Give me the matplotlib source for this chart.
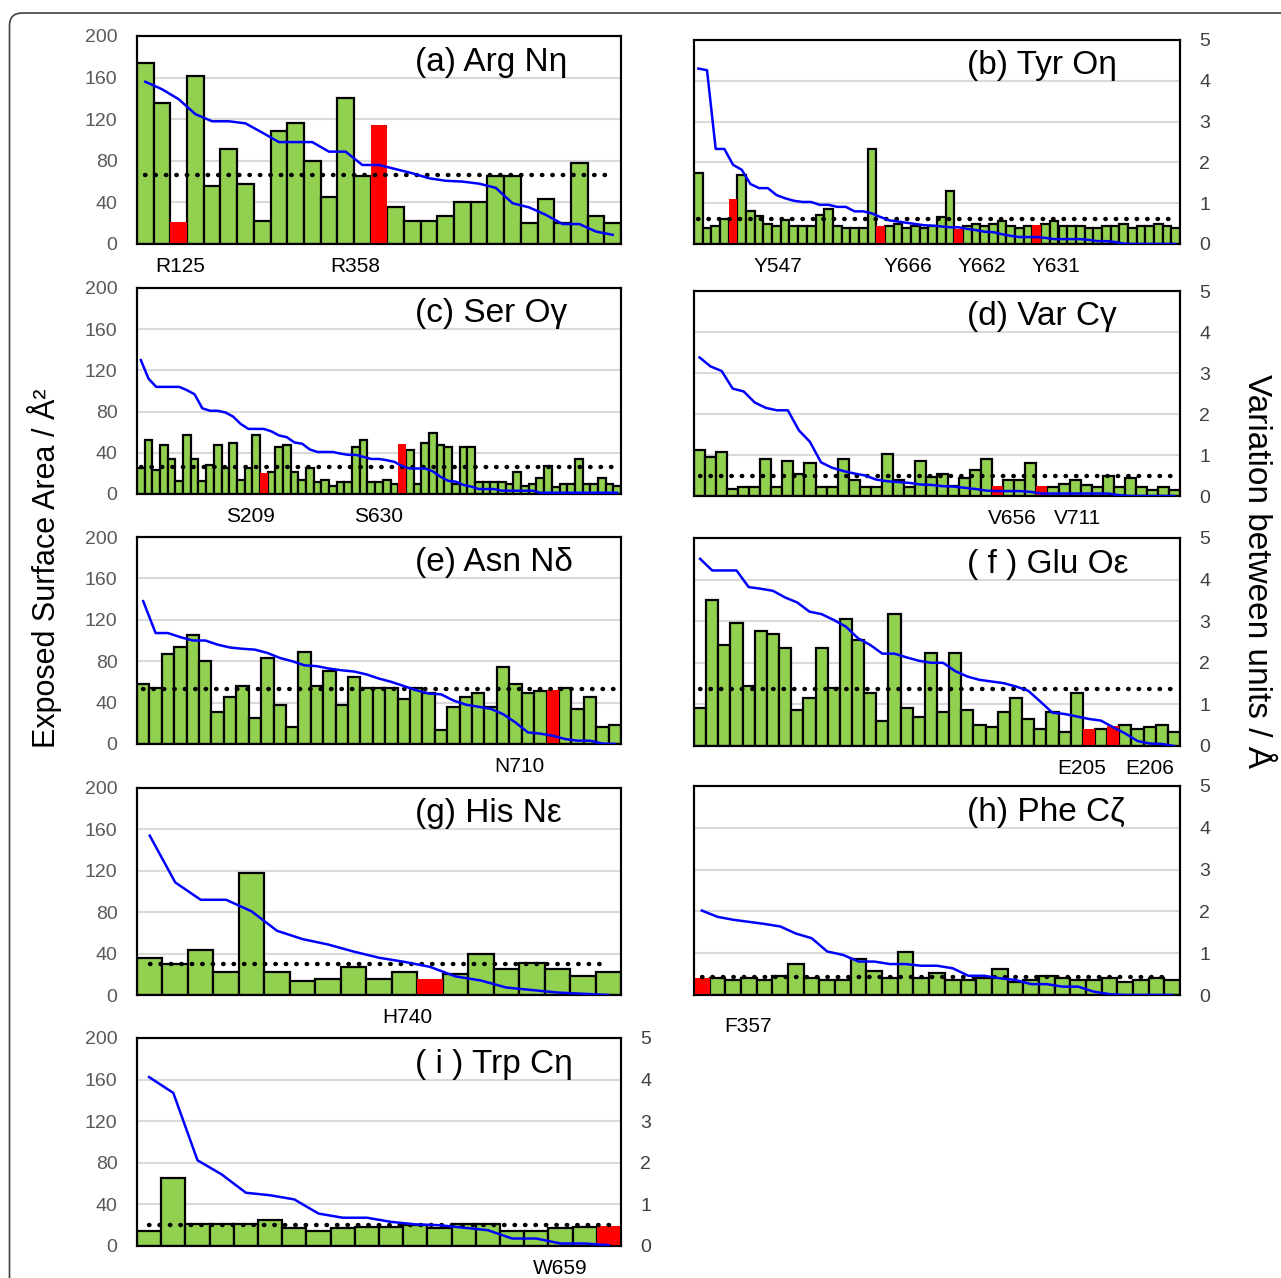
import numpy as np
import matplotlib.pyplot as plt
from matplotlib.patches import FancyBboxPatch

plt.rcParams['font.family'] = ['Liberation Sans', 'DejaVu Sans']

# (a) Arg
bars_a = [174, 136, 21, 162, 56, 91, 58, 22, 109, 116, 80, 45, 140, 65, 114, 36, 22, 22, 27, 40,
          40, 65, 65, 20, 43, 20, 78, 27, 20]
red_a = [2, 14]
line_a = [3.9, 3.72, 3.48, 3.12, 2.95, 2.95, 2.9, 2.68, 2.45, 2.45, 2.45, 2.22, 2.22, 1.9, 1.9,
          1.8, 1.7, 1.58, 1.52, 1.5, 1.45, 1.35, 0.98, 0.88, 0.7, 0.48, 0.48, 0.3, 0.22]
dot_a = 66
lab_a = ['R125', 'R358']
labx_a = [2.1, 12.6]

# (b) Tyr
bars_b = [70, 16, 18, 25, 44, 68, 32, 27, 20, 18, 24, 18, 18, 18, 28, 34, 18, 16, 16, 16,
          93, 18, 18, 20, 16, 18, 16, 18, 26, 52, 15, 18, 20, 18, 20, 23, 18, 16, 18, 19,
          20, 23, 18, 18, 18, 16, 16, 18, 18, 20, 16, 18, 18, 20, 18, 16]
red_b = [4, 21, 30, 39]
line_b = [4.3, 4.26, 2.33, 2.33, 1.94, 1.82, 1.47, 1.37, 1.37, 1.2,
          1.12, 1.06, 1.03, 1.03, 0.96, 0.96, 0.91, 0.91, 0.8, 0.8,
          0.75, 0.66, 0.58, 0.55, 0.52, 0.49, 0.46, 0.45, 0.43, 0.41,
          0.41, 0.37, 0.34, 0.3, 0.29, 0.24, 0.2, 0.17, 0.17, 0.17,
          0.15, 0.12, 0.12, 0.12, 0.12, 0.1, 0.07, 0.07, 0.05, 0.01,
          0, 0, 0, 0, 0, 0]
dot_b = 24.4
lab_b = ['Y547', 'Y666', 'Y662', 'Y631']
labx_b = [9.2, 24.2, 32.7, 41.2]

# (c) Ser
bars_c = [25, 52, 23, 48, 34, 13, 57, 34, 13, 28, 48, 25, 50, 14, 25, 57, 20, 21, 46, 48,
          21, 14, 25, 12, 14, 8, 12, 12, 46, 52, 12, 12, 14, 10, 49, 43, 10, 50, 59, 48,
          46, 10, 46, 46, 12, 12, 12, 12, 10, 21, 8, 10, 16, 27, 7, 10, 10, 34, 10, 10,
          16, 10, 8]
red_c = [16, 34]
line_c = [3.25, 2.8, 2.6, 2.6, 2.6, 2.6, 2.52, 2.42, 2.08, 2.02,
          2.02, 1.98, 1.88, 1.7, 1.58, 1.58, 1.58, 1.52, 1.42, 1.38,
          1.25, 1.22, 1.08, 1.02, 1.02, 1.02, 0.98, 0.95, 0.95, 0.9,
          0.85, 0.85, 0.82, 0.78, 0.68, 0.62, 0.62, 0.62, 0.55, 0.42,
          0.32, 0.3, 0.22, 0.18, 0.12, 0.12, 0.12, 0.08, 0.08, 0.08,
          0.08, 0.08, 0.03, 0.03, 0.03, 0.03, 0.03, 0.03, 0.03, 0.03,
          0.03, 0.03, 0.03]
dot_c = 26
lab_c = ['S209', 'S630']
labx_c = [14.3, 30.9]

# (d) Val
bars_d = [45, 38, 43, 7, 9, 9, 36, 9, 34, 21, 32, 9, 9, 36, 16, 9, 9, 41, 16, 9,
          34, 19, 21, 10, 18, 25, 36, 10, 16, 16, 32, 10, 9, 12, 16, 11, 9, 20, 9, 18,
          9, 6, 9, 6]
red_d = [27, 31]
line_d = [3.38, 3.16, 3.05, 2.62, 2.55, 2.28, 2.15, 2.09, 2.09, 1.6,
          1.32, 0.82, 0.69, 0.61, 0.55, 0.5, 0.4, 0.36, 0.34, 0.32,
          0.28, 0.27, 0.24, 0.23, 0.2, 0.17, 0.13, 0.12, 0.12, 0.12,
          0.1, 0.06, 0.06, 0.06, 0.06, 0.06, 0.06, 0.06, 0.02, 0,
          0, 0, 0, 0]
dot_d = 19.4
lab_d = ['V656', 'V711']
labx_d = [28.3, 34.25]

# (e) Asn
bars_e = [58, 54, 87, 94, 105, 80, 31, 45, 56, 25, 83, 38, 16, 89, 56, 71, 38, 65, 54, 54,
          54, 43, 54, 49, 14, 36, 45, 49, 36, 74, 58, 49, 51, 52, 54, 34, 45, 16, 18]
red_e = [33]
line_e = [3.45, 2.68, 2.68, 2.58, 2.5, 2.5, 2.4, 2.33, 2.3, 2.28,
          2.2, 2.08, 2.0, 1.9, 1.88, 1.82, 1.78, 1.75, 1.68, 1.58,
          1.5, 1.4, 1.3, 1.22, 1.2, 1.05, 0.95, 0.9, 0.85, 0.72,
          0.52, 0.28, 0.25, 0.2, 0.12, 0.08, 0.08, 0.01, 0.0]
dot_e = 52.8
lab_e = ['N710']
labx_e = [30.3]

# (f) Glu
bars_f = [37, 140, 97, 118, 58, 111, 108, 94, 35, 46, 94, 56, 122, 102, 51, 24, 127, 37, 28, 89,
          33, 89, 35, 20, 18, 33, 46, 26, 16, 33, 13, 51, 16, 16, 19, 20, 16, 18, 20, 13]
red_f = [32, 34]
line_f = [4.5, 4.22, 4.22, 4.22, 3.82, 3.78, 3.73, 3.57, 3.45, 3.23,
          3.17, 3.03, 2.87, 2.59, 2.43, 2.22, 2.22, 2.13, 2.05, 2.0,
          2.0, 1.8, 1.67, 1.59, 1.55, 1.51, 1.43, 1.33, 1.07, 0.8,
          0.77, 0.71, 0.65, 0.61, 0.45, 0.3, 0.12, 0.06, 0.05, 0.0]
dot_f = 54.6
lab_f = ['E205', 'E206']
labx_f = [31.4, 37.0]

# (g) His
bars_g = [36, 30, 43, 22, 118, 22, 14, 15, 27, 15, 22, 15, 20, 40, 25, 31, 25, 18, 22]
red_g = [11]
line_g = [3.85, 2.72, 2.3, 2.3, 2.02, 1.55, 1.35, 1.22, 1.05, 0.9,
          0.8, 0.68, 0.45, 0.35, 0.18, 0.12, 0.06, 0.03, 0.0]
dot_g = 30.4
lab_g = ['H740']
labx_g = [10.1]

# (h) Phe
bars_h = [16, 16, 14, 16, 14, 18, 30, 16, 14, 14, 34, 23, 16, 41, 16, 21, 14, 14, 16, 25,
          12, 14, 18, 16, 14, 14, 16, 12, 14, 16, 14]
red_h = [0]
line_h = [2.02, 1.87, 1.8, 1.75, 1.7, 1.64, 1.47, 1.36, 1.04, 0.96,
          0.8, 0.8, 0.74, 0.74, 0.7, 0.7, 0.64, 0.46, 0.46, 0.4,
          0.36, 0.26, 0.26, 0.2, 0.2, 0.08, 0.02, 0, 0, 0, 0]
dot_h = 17.6
lab_h = ['F357']
labx_h = [2.94]

# (i) Trp
bars_i = [14, 65, 21, 21, 21, 25, 17, 14, 17, 18, 18, 20, 17, 21, 21, 14, 14, 17, 18, 19]
red_i = [19]
line_i = [4.06, 3.68, 2.06, 1.72, 1.28, 1.22, 1.12, 0.78, 0.68, 0.68,
          0.58, 0.52, 0.5, 0.44, 0.38, 0.18, 0.18, 0.06, 0.06, 0.02]
dot_i = 19.8
lab_i = ['W659']
labx_i = [17.0]

W, H = 1281, 1278
fig = plt.figure(figsize=(W / 100, H / 100), dpi=100)

verde = '#92d050'
rojo = '#ff0000'
gris = '#595959'


def panel(box, title, tx, bars, red, line, dot, labs, labx, izq, der, off=16):
    l, r, t, b = box
    ax = fig.add_axes([l / W, 1 - b / H, (r - l) / W, (b - t) / H])
    n = len(bars)
    x = np.arange(n)
    verdes = [i for i in range(n) if i not in red]
    ax.bar([x[i] for i in verdes], [bars[i] for i in verdes], width=1.0,
           color=verde, edgecolor='black', linewidth=1.6, zorder=2)
    ax.bar([x[i] for i in red], [bars[i] for i in red], width=1.0,
           color=rojo, edgecolor='none', zorder=3)
    ax.plot([0, n - 1], [dot, dot], color='black', lw=3.2,
            linestyle=(0, (0.1, 2.25)), dash_capstyle='round', zorder=4)
    ax.set_xlim(-0.5, n - 0.5)
    ax.set_ylim(0, 200)
    ax.set_yticks(range(0, 201, 40))
    ax.set_xticks([])
    ax.grid(axis='y', color='#d9d9d9', lw=1.5)
    ax.set_axisbelow(True)
    ax.tick_params(length=0, pad=14, labelsize=14, labelcolor=gris, labelleft=izq)

    ax2 = ax.twinx()
    ax2.plot(x, line, color='#0000ff', lw=1.8, zorder=5)
    ax2.set_ylim(0, 5)
    ax2.set_yticks(range(0, 6))
    ax2.tick_params(length=0, pad=14, labelsize=14, labelcolor='#404040', labelright=der)
    for a in (ax, ax2):
        for s in a.spines.values():
            s.set_linewidth(1.5)
            s.set_color('black')

    ax.text(tx, 0.875, title, transform=ax.transAxes, fontsize=24,
            ha='left', va='center')
    for txt, px in zip(labs, labx):
        ax.annotate(txt, xy=(px, 0), xycoords=('data', 'axes fraction'),
                    xytext=(0, -off), textcoords='offset points',
                    ha='center', va='center', fontsize=15, annotation_clip=False)


panel((137, 621, 36, 244), '(a) Arg Nη', 0.574, bars_a, red_a, line_a, dot_a, lab_a, labx_a, True, False)
panel((694, 1180, 40, 244), '(b) Tyr Oη', 0.562, bars_b, red_b, line_b, dot_b, lab_b, labx_b, False, True)
panel((137, 621, 288, 494), '(c) Ser Oγ', 0.574, bars_c, red_c, line_c, dot_c, lab_c, labx_c, True, False)
panel((694, 1180, 291, 496), '(d) Var Cγ', 0.562, bars_d, red_d, line_d, dot_d, lab_d, labx_d, False, True)
panel((137, 621, 537, 744), '(e) Asn Nδ', 0.574, bars_e, red_e, line_e, dot_e, lab_e, labx_e, True, False)
panel((694, 1180, 538, 746), '( f ) Glu Oε', 0.562, bars_f, red_f, line_f, dot_f, lab_f, labx_f, False, True)
panel((137, 621, 788, 995), '(g) His Nε', 0.574, bars_g, red_g, line_g, dot_g, lab_g, labx_g, True, False)
panel((694, 1180, 786, 995), '(h) Phe Cζ', 0.562, bars_h, red_h, line_h, dot_h, lab_h, labx_h, False, True, off=23)
panel((137, 621, 1038, 1246), '( i ) Trp Cη', 0.574, bars_i, red_i, line_i, dot_i, lab_i, labx_i, True, True)

fig.text(45 / W, 1 - 568 / H, 'Exposed Surface Area / Å²', rotation=90,
         fontsize=22, ha='center', va='center')
fig.text(1257 / W, 1 - 571 / H, 'Variation between units / Å', rotation=270,
         fontsize=24, ha='center', va='center')

# marco redondeado
marco = FancyBboxPatch((9.5 / W, -0.1), 1.2, 1 - 13 / H + 0.1,
                       boxstyle='round,pad=0,rounding_size=0.01',
                       transform=fig.transFigure, fill=False,
                       edgecolor='#404040', linewidth=1.2)
fig.add_artist(marco)

fig.savefig('out.png', dpi=100)
